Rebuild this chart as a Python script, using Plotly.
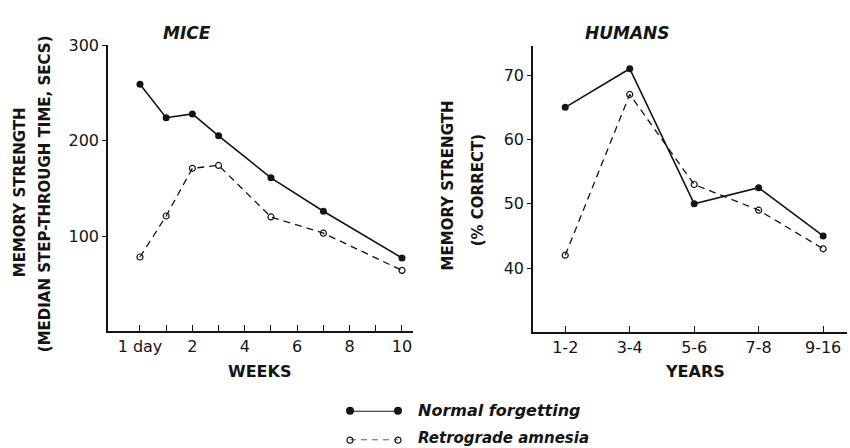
import plotly.graph_objects as go

# ---- data -------------------------------------------------------------
# Mice: retention interval in weeks (0 = 1 day)
mice_weeks = [0, 1, 2, 3, 5, 7, 10]
mice_normal = [259, 224, 228, 205, 161, 126, 77]
mice_retro = [78, 121, 171, 174, 120, 103, 64]
mice_tickvals = [0, 1, 2, 3, 4, 5, 6, 7, 8, 9, 10]
mice_ticktext = ["1 day", "", "2", "", "4", "", "6", "", "8", "", "10"]

# Humans: age groups in years
human_ages = ["1-2", "3-4", "5-6", "7-8", "9-16"]
human_normal = [65, 71, 50, 52.5, 45]
human_retro = [42, 67, 53, 49, 43]

W, H = 850, 448
INK = "#141414"
FONT = "DejaVu Sans"


def px_x(p):
    return p / W


def px_y(p):
    return (H - p) / H


fig = go.Figure()

solid = dict(color=INK, width=1.6)
dashed = dict(color=INK, width=1.3, dash="7px,5px")
filled = dict(symbol="circle", size=7, color=INK)
hollow = dict(symbol="circle-open", size=6, color=INK, line=dict(width=1.2, color=INK))

# mice panel
fig.add_trace(go.Scatter(x=mice_weeks, y=mice_retro, mode="lines+markers",
                         line=dashed, marker=hollow, xaxis="x", yaxis="y",
                         showlegend=False))
fig.add_trace(go.Scatter(x=mice_weeks, y=mice_normal, mode="lines+markers",
                         line=solid, marker=filled, xaxis="x", yaxis="y",
                         showlegend=False))

# humans panel
fig.add_trace(go.Scatter(x=human_ages, y=human_retro, mode="lines+markers",
                         line=dashed, marker=hollow, xaxis="x2", yaxis="y2",
                         showlegend=False))
fig.add_trace(go.Scatter(x=human_ages, y=human_normal, mode="lines+markers",
                         line=solid, marker=filled, xaxis="x2", yaxis="y2",
                         showlegend=False))

# key samples: a short segment with a marker at each end
fig.add_trace(go.Scatter(x=[0, 1], y=[1, 1], mode="lines+markers",
                         line=dict(color=INK, width=2), marker=dict(filled, size=8),
                         xaxis="x3", yaxis="y3", cliponaxis=False,
                         showlegend=False, hoverinfo="skip"))
fig.add_trace(go.Scatter(x=[0, 1], y=[0, 0], mode="lines+markers",
                         line=dict(color=INK, width=1.2, dash="6px,5px"),
                         marker=hollow, xaxis="x3", yaxis="y3", cliponaxis=False,
                         showlegend=False, hoverinfo="skip"))

tickfont = dict(family=FONT, size=16, color=INK)
axis_common = dict(showline=True, linecolor=INK, linewidth=1.6, showgrid=False,
                   zeroline=False, tickcolor=INK, tickfont=tickfont)

fig.update_layout(
    width=W, height=H,
    margin=dict(l=0, r=0, t=0, b=0),
    paper_bgcolor="white", plot_bgcolor="white",
    xaxis=dict(axis_common, domain=[px_x(108), px_x(413)], range=[-1.22, 10.42],
               tickvals=mice_tickvals, ticktext=mice_ticktext,
               ticks="inside", ticklen=7, tickwidth=1.4, anchor="y"),
    yaxis=dict(axis_common, domain=[px_y(329), px_y(37)], range=[0, 300],
               tickvals=[100, 200, 300], ticks="outside", ticklen=4,
               tickwidth=1.4, anchor="x"),
    xaxis2=dict(axis_common, domain=[px_x(533), px_x(847)], range=[-0.5, 4.37],
                type="category", ticks="inside", ticklen=7, tickwidth=1.4,
                anchor="y2"),
    yaxis2=dict(axis_common, domain=[px_y(330), px_y(38)], range=[30, 74.5],
                tickvals=[40, 50, 60, 70], ticks="outside", ticklen=4,
                tickwidth=1.4, anchor="x2"),
    xaxis3=dict(domain=[px_x(350), px_x(398)], range=[0, 1], visible=False,
                anchor="y3"),
    yaxis3=dict(domain=[px_y(440), px_y(410)], range=[0, 1], visible=False,
                anchor="x3"),
)

label_font = dict(family=FONT, size=15, color=INK)
title_font = dict(family=FONT, size=17, color=INK)


def note(text, x, y, font, angle=0, xanchor="center"):
    fig.add_annotation(text=text, x=px_x(x), y=px_y(y), xref="paper", yref="paper",
                       showarrow=False, textangle=angle, font=font,
                       xanchor=xanchor, yanchor="middle")


# panel titles
note("<b><i>MICE</i></b>", 187, 24, title_font)
note("<b><i>HUMANS</i></b>", 627, 25, title_font)

# axis titles
note("<b>MEMORY STRENGTH</b>", 20, 187, label_font, angle=-90)
note("<b>(MEDIAN STEP-THROUGH TIME, SECS)</b>", 45, 189, label_font, angle=-90)
note("<b>MEMORY STRENGTH</b>", 448, 180, label_font, angle=-90)
note("<b>(% CORRECT)</b>", 478, 185, label_font, angle=-90)
note("<b>WEEKS</b>", 259, 370, dict(family=FONT, size=16, color=INK))
note("<b>YEARS</b>", 695, 370, dict(family=FONT, size=16, color=INK))

# key text
key_font = dict(family=FONT, size=16, color=INK)
note("<b><i>Normal forgetting</i></b>", 416, 410, key_font, xanchor="left")
note("<b><i>Retrograde amnesia</i></b>", 416, 438, dict(key_font, size=15),
     xanchor="left")

fig.write_html("out.html")
